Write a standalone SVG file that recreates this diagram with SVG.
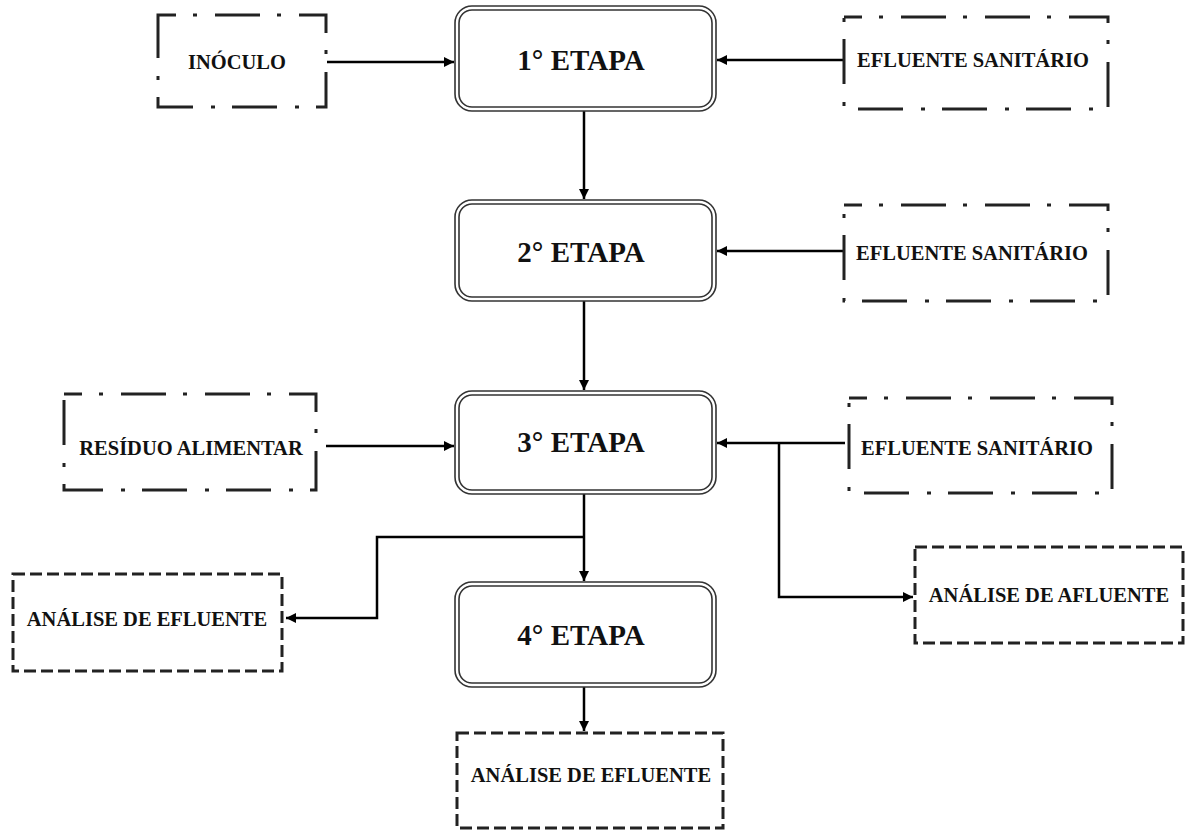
<svg xmlns="http://www.w3.org/2000/svg" width="1189" height="833" viewBox="0 0 1189 833">
<style>
.bg{fill:#fff}
.stage-o{fill:#fff;stroke:#333;stroke-width:1.6}
.stage-i{fill:none;stroke:#333;stroke-width:1.6}
.dd{fill:none;stroke:#222;stroke-width:3;stroke-dasharray:45 17 4 18;stroke-dashoffset:27}
.da{fill:none;stroke:#222;stroke-width:3;stroke-dasharray:12 5}
.big{font-family:"Liberation Serif","Times New Roman",serif;font-weight:bold;font-size:29px;fill:#111;text-anchor:middle}
.lbl{font-family:"Liberation Serif","Times New Roman",serif;font-weight:bold;font-size:20.5px;fill:#111;text-anchor:middle}
.con{fill:none;stroke:#000;stroke-width:2.5}
</style>
<defs>
<marker id="arr" viewBox="0 0 10 10" refX="10" refY="5" markerWidth="4" markerHeight="4" orient="auto" markerUnits="strokeWidth">
<path d="M0,0 L10,5 L0,10 z" fill="#000"/>
</marker>
</defs>
<rect class="bg" x="0" y="0" width="1189" height="833"/>

<g id="connectors">
<path class="con" d="M327,62 H454" marker-end="url(#arr)"/>
<path class="con" d="M843,60 H717" marker-end="url(#arr)"/>
<path class="con" d="M584,111 V199" marker-end="url(#arr)"/>
<path class="con" d="M843,251 H717" marker-end="url(#arr)"/>
<path class="con" d="M584,301 V390" marker-end="url(#arr)"/>
<path class="con" d="M326,446 H454" marker-end="url(#arr)"/>
<path class="con" d="M845,443 H717" marker-end="url(#arr)"/>
<path class="con" d="M779,443 V597 H913" marker-end="url(#arr)"/>
<path class="con" d="M584,494 V581" marker-end="url(#arr)"/>
<path class="con" d="M584,537 H377 V618 H286" marker-end="url(#arr)"/>
<path class="con" d="M584,687 V731" marker-end="url(#arr)"/>
</g>

<g id="stage1">
<rect class="stage-o" x="455" y="6" width="261" height="105" rx="17"/>
<rect class="stage-i" x="459" y="10" width="253" height="97" rx="13"/>
<text class="big" x="581" y="70">1° ETAPA</text>
</g>
<g id="stage2">
<rect class="stage-o" x="455" y="200" width="261" height="101" rx="17"/>
<rect class="stage-i" x="459" y="204" width="253" height="93" rx="13"/>
<text class="big" x="581" y="262">2° ETAPA</text>
</g>
<g id="stage3">
<rect class="stage-o" x="455" y="391" width="261" height="103" rx="17"/>
<rect class="stage-i" x="459" y="395" width="253" height="95" rx="13"/>
<text class="big" x="581" y="452">3° ETAPA</text>
</g>
<g id="stage4">
<rect class="stage-o" x="455" y="582" width="261" height="105" rx="17"/>
<rect class="stage-i" x="459" y="586" width="253" height="97" rx="13"/>
<text class="big" x="581" y="645">4° ETAPA</text>
</g>

<g id="inoculo">
<rect class="dd" x="158" y="15" width="168" height="92"/>
<text class="lbl" x="237" y="69">INÓCULO</text>
</g>
<g id="efluente1">
<rect class="dd" x="844" y="17" width="264" height="92"/>
<text class="lbl" x="973" y="67">EFLUENTE SANITÁRIO</text>
</g>
<g id="efluente2">
<rect class="dd" x="844" y="205" width="264" height="96"/>
<text class="lbl" x="972" y="260">EFLUENTE SANITÁRIO</text>
</g>
<g id="efluente3">
<rect class="dd" x="849" y="398" width="263" height="95"/>
<text class="lbl" x="977" y="455">EFLUENTE SANITÁRIO</text>
</g>
<g id="residuo">
<rect class="dd" x="64" y="394" width="252" height="96"/>
<text class="lbl" x="191" y="455">RESÍDUO ALIMENTAR</text>
</g>
<g id="analise-efluente-left">
<rect class="da" x="13" y="574" width="269" height="97"/>
<text class="lbl" x="147" y="626">ANÁLISE DE EFLUENTE</text>
</g>
<g id="analise-afluente">
<rect class="da" x="915" y="547" width="268" height="96"/>
<text class="lbl" x="1049" y="602">ANÁLISE DE AFLUENTE</text>
</g>
<g id="analise-efluente-bottom">
<rect class="da" x="457" y="733" width="266" height="95"/>
<text class="lbl" x="591" y="782">ANÁLISE DE EFLUENTE</text>
</g>
</svg>
